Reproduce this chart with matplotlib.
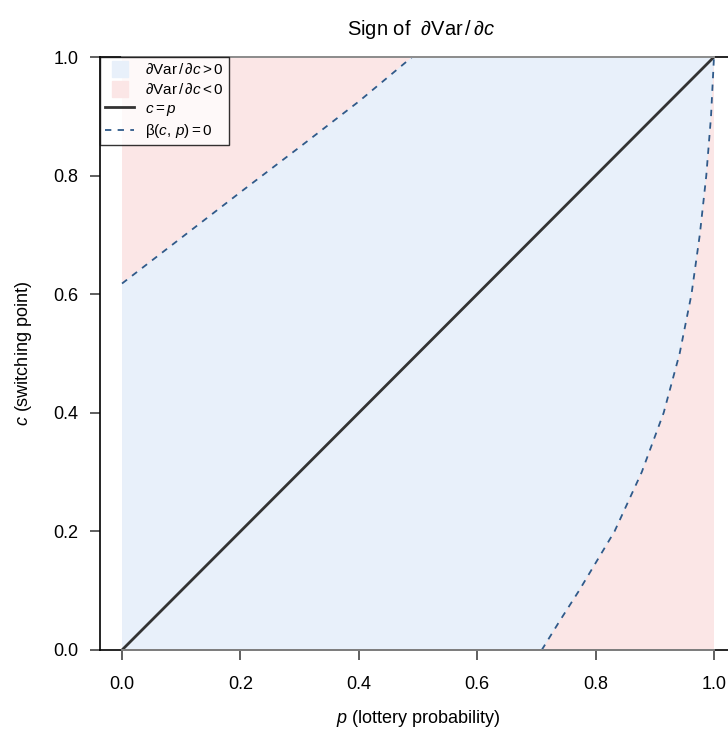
import numpy as np
import matplotlib
matplotlib.use("Agg")
import matplotlib.pyplot as plt
from matplotlib.lines import Line2D

# boundary beta(c, p) = 0
upper_p = [0.0, 0.1, 0.2, 0.3, 0.4, 0.49]
upper_c = [0.618, 0.695, 0.772, 0.848, 0.925, 1.0]
lower_c = [0.0, 0.05, 0.1, 0.2, 0.3, 0.4, 0.5, 0.6, 0.7, 0.8, 0.9, 1.0]
lower_p = [0.709, 0.74, 0.772, 0.832, 0.878, 0.915, 0.942, 0.962, 0.976, 0.987, 0.995, 1.0]

ticks = [0.0, 0.2, 0.4, 0.6, 0.8, 1.0]
tick_labels = ["0.0", "0.2", "0.4", "0.6", "0.8", "1.0"]

blue = "#E8F0FA"
pink = "#FBE6E6"
navy = "#2F5A8A"

plt.rcParams["font.family"] = ["Liberation Sans", "DejaVu Sans"]
plt.rcParams["mathtext.fontset"] = "custom"
plt.rcParams["mathtext.rm"] = "Liberation Sans"
plt.rcParams["mathtext.it"] = "Liberation Sans:italic"
plt.rcParams["mathtext.bf"] = "Liberation Sans:bold"

W, H = 728, 738
fig = plt.figure(figsize=(W / 100, H / 100), dpi=100)
# plot region runs off the right edge, like the reference
ax = fig.add_axes([100 / W, 88 / H, 636 / W, 593 / H])
ax.set_xlim(-0.0372, 1.0372)
ax.set_ylim(0, 1)

# regions
ax.fill_between([0, 1], [0, 0], [1, 1], color=pink, lw=0, zorder=1)
poly_x = [0.0] + lower_p + upper_p[::-1]
poly_y = [0.0] + lower_c + upper_c[::-1]
ax.fill(poly_x, poly_y, color=blue, lw=0, zorder=2)

ax.plot([0, 1], [0, 1], color="#333333", lw=2, zorder=4)
ax.plot(upper_p, upper_c, color=navy, lw=1.3, ls=(0, (3.5, 3.5)), zorder=4)
ax.plot(lower_p, lower_c, color=navy, lw=1.3, ls=(0, (3.5, 3.5)), zorder=4)

# axis lines over the box
ax.plot([0, 1], [0, 0], color="#888888", lw=1.3, zorder=5, clip_on=False)
ax.plot([0, 1], [1, 1], color="#999999", lw=1.3, zorder=5, clip_on=False)

for side in ["left", "top", "bottom"]:
    ax.spines[side].set_color("black")
    ax.spines[side].set_linewidth(1.2)
ax.spines["right"].set_visible(False)

ax.set_xticks(ticks)
ax.set_xticklabels(tick_labels)
ax.set_yticks(ticks)
ax.set_yticklabels(tick_labels)
ax.tick_params(axis="both", labelsize=13, length=7.5, width=1.2, color="#444444")
ax.tick_params(axis="x", pad=11)
ax.tick_params(axis="y", pad=8)

ax.set_xlabel(r"$p$ (lottery probability)", fontsize=13, labelpad=11)
ax.set_ylabel(r"$c$ (switching point)", fontsize=13, labelpad=14)
ax.set_title(r"Sign of  $\partial\mathrm{Var}\,/\,\partial c$", fontsize=14.5,
             pad=16, x=(421 - 100) / 636)

handles = [
    Line2D([], [], marker="s", ms=11, color=blue, ls="none"),
    Line2D([], [], marker="s", ms=11, color=pink, ls="none"),
    Line2D([0], [0], color="#333333", lw=2),
    Line2D([0], [0], color=navy, lw=1.3, ls=(0, (3.5, 3.5))),
]
labels = [
    r"$\partial\mathrm{Var}\,/\,\partial c > 0$",
    r"$\partial\mathrm{Var}\,/\,\partial c < 0$",
    r"$c = p$",
    r"$\mathrm{\beta}(c,\, p) = 0$",
]
leg = ax.legend(handles, labels, loc="upper left", bbox_to_anchor=(0, 1),
                borderaxespad=0, fontsize=11, fancybox=False, frameon=True,
                handlelength=1.9, handletextpad=0.7, labelspacing=0.3,
                borderpad=0.35)
leg.get_frame().set_edgecolor("black")
leg.get_frame().set_linewidth(1.0)
leg.set_zorder(10)

fig.savefig("out.png", dpi=100)
